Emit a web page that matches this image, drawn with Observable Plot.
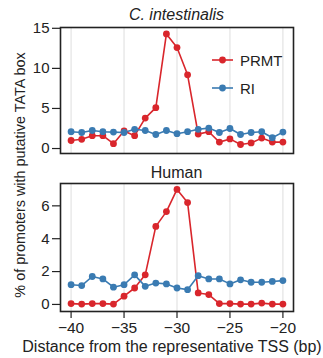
<!DOCTYPE html>
<html>
<head>
<meta charset="utf-8">
<script src="https://cdn.jsdelivr.net/npm/d3@7"></script>
<script src="https://cdn.jsdelivr.net/npm/@observablehq/plot@0.6"></script>
<style>
  html, body { margin: 0; padding: 0; background: #fff; }
  #wrap { position: relative; width: 323px; height: 358px; font-family: "Liberation Sans", Arial, sans-serif; color: #222; overflow: hidden; }
  #wrap svg { position: absolute; left: 0; }
  .lbl { position: absolute; font-size: 16px; white-space: nowrap; line-height: 1; }
  .leg { position: absolute; font-size: 15px; line-height: 1; display: flex; align-items: center; }
</style>
</head>
<body>
<div id="wrap"></div>
<script>
// ---- data ----
const positions = d3.range(-40, -19); // -40 .. -20 bp
const cionaPRMT = [1.0, 1.15, 1.6, 1.6, 0.6, 2.2, 1.6, 3.8, 5.1, 14.3, 12.6, 9.2, 1.8, 2.1, 0.8, 1.2, 0.5, 0.7, 1.3, 0.8, 0.8];
const cionaRI   = [2.1, 2.0, 2.25, 2.1, 2.05, 2.0, 2.4, 2.25, 1.75, 2.25, 1.85, 2.1, 2.4, 2.55, 2.0, 2.5, 1.75, 2.0, 2.1, 1.35, 2.05];
const humanPRMT = [0.05, 0.02, 0.05, 0.05, 0.02, 0.5, 1.0, 1.8, 4.75, 5.65, 7.0, 6.2, 0.7, 0.6, 0.05, 0.05, 0.02, 0.02, 0.08, 0.02, 0.02];
const humanRI   = [1.2, 1.15, 1.7, 1.55, 1.05, 1.2, 1.8, 1.1, 1.3, 1.25, 1.0, 0.9, 1.75, 1.55, 1.55, 1.25, 1.5, 1.35, 1.35, 1.4, 1.45];
const seriesNames = ["PRMT", "RI"];
const seriesColors = ["#d9262c", "#3a7bb2"];
const xTicks = [-40, -35, -30, -25, -20];
const cionaTicks = [0, 5, 10, 15];
const humanTicks = [0, 2, 4, 6];
const panelTitles = ["C. intestinalis", "Human"];
const xLabel = "Distance from the representative TSS (bp)";
const yLabel = "% of promoters with putative TATA box";

function rows(prmt, ri) {
  const out = [];
  positions.forEach((p, i) => {
    out.push({pos: p, value: prmt[i], series: "PRMT"});
    out.push({pos: p, value: ri[i], series: "RI"});
  });
  return out;
}

const common = {
  width: 323,
  marginLeft: 60,
  marginRight: 30,
  style: {fontFamily: "'Liberation Sans', Arial, sans-serif", fontSize: "15px", color: "#222", background: "transparent"},
  color: {domain: seriesNames, range: seriesColors}
};

function panel(data, yDomain, yTicks, opts) {
  const marks = [
    Plot.gridX(xTicks, {stroke: "#e3e3e3", strokeOpacity: 1, strokeWidth: 1.2}),
    Plot.line(data, {x: "pos", y: "value", z: "series", stroke: "series", strokeWidth: 1.6}),
    Plot.dot(data, {x: "pos", y: "value", fill: "series", r: 3.4}),
    Plot.frame({stroke: "#222", strokeWidth: 1.6}),
    Plot.axisY({ticks: yTicks, tickSize: 8, tickPadding: 3, fontSize: 15, label: null, stroke: "#222", strokeWidth: 1.2})
  ];
  if (opts.xAxis) {
    marks.push(Plot.axisX({ticks: xTicks, tickSize: 7, tickPadding: 3, fontSize: 15.5, label: null, stroke: "#222", strokeWidth: 1.2}));
  }
  return Plot.plot({
    ...common,
    height: opts.height,
    marginTop: opts.marginTop,
    marginBottom: opts.marginBottom,
    x: {domain: [-41, -19], axis: opts.xAxis ? undefined : null},
    y: {domain: yDomain},
    marks
  });
}

const wrap = document.getElementById("wrap");

const topPanel = panel(rows(cionaPRMT, cionaRI), [-0.62, 15.1], cionaTicks, {height: 160, marginTop: 27, marginBottom: 7, xAxis: false});
topPanel.style.top = "0px";
wrap.appendChild(topPanel);

const botPanel = panel(rows(humanPRMT, humanRI), [-0.43, 7.36], humanTicks, {height: 198, marginTop: 23, marginBottom: 47, xAxis: true});
botPanel.style.top = "160px";
wrap.appendChild(botPanel);

// panel titles
function addLabel(text, cx, cy, extra) {
  const d = document.createElement("div");
  d.className = "lbl";
  d.textContent = text;
  d.style.left = cx + "px";
  d.style.top = cy + "px";
  d.style.transform = "translate(-50%, -50%)" + (extra || "");
  wrap.appendChild(d);
  return d;
}
const t1 = addLabel(panelTitles[0], 176.5, 15);
t1.style.fontStyle = "italic";
addLabel(panelTitles[1], 176.5, 173);
addLabel(xLabel, 172, 347);
const yl = addLabel(yLabel, 20, 175, " rotate(-90deg)");
yl.style.fontSize = "14.4px";

// legend
seriesNames.forEach((name, i) => {
  const item = document.createElement("div");
  item.className = "leg";
  item.style.left = "211px";
  item.style.top = (60 + i * 28 - 9) + "px";
  item.style.height = "18px";
  const svg = d3.create("svg").attr("width", 24).attr("height", 18).style("position", "static");
  svg.append("line").attr("x1", 1).attr("x2", 22).attr("y1", 9).attr("y2", 9)
    .attr("stroke", seriesColors[i]).attr("stroke-width", 1.6);
  svg.append("circle").attr("cx", 11.5).attr("cy", 9).attr("r", 3.4).attr("fill", seriesColors[i]);
  item.appendChild(svg.node());
  const s = document.createElement("span");
  s.textContent = name;
  s.style.marginLeft = "5px";
  item.appendChild(s);
  wrap.appendChild(item);
});
</script>
</body>
</html>
